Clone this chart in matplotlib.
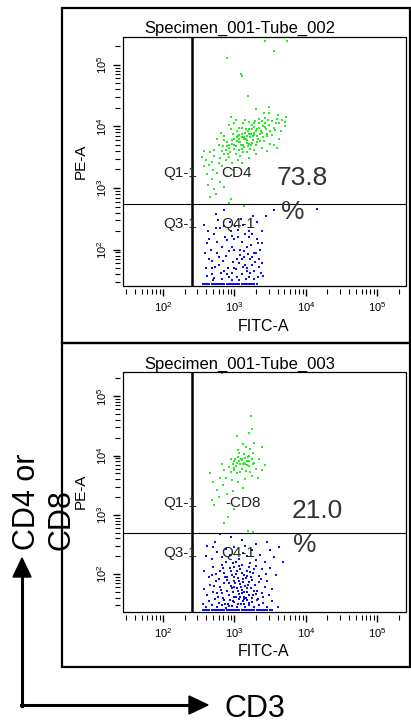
import matplotlib
matplotlib.use('Agg')
import matplotlib.pyplot as plt
from matplotlib.patches import Rectangle, Polygon
from matplotlib.lines import Line2D

plt.rcParams['font.family'] = ['Liberation Sans', 'DejaVu Sans']
plt.rcParams['mathtext.fontset'] = 'custom'
plt.rcParams['mathtext.rm'] = 'Liberation Sans'
plt.rcParams['mathtext.it'] = 'Liberation Sans:italic'

W, H = 411, 727

# events, as log10(FITC-A), log10(PE-A)
tube2_green = [
    (3.42, 5.38), (3.73, 5.38), (3.55, 5.22), (2.90, 5.11), (3.09, 4.85), (3.11, 4.82),
    (3.19, 4.49), (3.30, 4.28), (3.48, 4.31), (3.41, 4.21), (3.48, 4.21), (3.61, 4.18),
    (3.72, 4.16), (3.43, 4.13), (2.95, 4.15), (3.02, 4.10), (3.27, 4.05), (3.62, 4.05),
    (3.70, 4.07),
    (3.00, 3.80), (3.05, 3.85), (3.10, 3.82), (3.15, 3.90), (3.20, 3.88), (3.08, 3.75),
    (3.12, 3.70), (3.18, 3.78), (3.25, 3.95), (3.30, 3.92), (3.22, 3.83), (3.28, 3.86),
    (3.35, 3.98), (3.40, 4.00), (3.02, 3.68), (2.96, 3.72), (2.92, 3.65), (3.06, 3.62),
    (3.14, 3.66), (3.20, 3.72), (3.26, 3.78), (3.32, 3.84), (3.38, 3.90), (3.44, 3.95),
    (3.16, 3.95), (3.10, 3.98), (3.04, 3.92), (2.98, 3.88), (3.24, 4.02), (3.34, 4.05),
    (3.48, 4.02), (3.52, 4.08), (3.45, 3.88), (3.40, 3.82), (3.36, 3.76), (3.30, 3.70),
    (3.22, 3.64), (3.12, 3.58), (3.02, 3.55), (2.94, 3.58), (2.88, 3.62), (2.90, 3.75),
    (2.85, 3.55), (3.18, 3.85), (3.13, 3.79), (3.07, 3.86), (3.27, 3.90), (3.21, 3.96),
    (3.33, 3.80), (3.37, 3.93), (3.42, 4.06), (3.55, 3.98), (3.58, 4.05), (3.50, 3.92),
    (3.28, 3.99), (3.17, 3.73), (3.09, 3.69), (2.99, 3.63), (3.04, 3.77), (3.23, 3.69),
    (3.03, 3.83), (3.11, 3.87), (3.19, 3.93), (3.26, 3.84), (3.31, 3.96), (3.36, 3.87),
    (3.43, 3.99), (3.47, 4.10), (3.39, 4.09), (3.29, 4.08), (3.14, 3.83), (3.07, 3.80),
    (2.97, 3.78), (2.93, 3.70), (3.00, 3.70), (3.10, 3.64), (3.19, 3.68), (3.25, 3.73),
    (3.32, 3.75), (3.41, 3.77), (3.46, 3.84), (3.53, 3.86), (3.57, 3.94), (3.60, 4.12),
    (3.66, 4.10), (3.35, 4.12), (3.23, 3.88), (3.16, 3.80), (3.06, 3.74), (2.89, 3.68),
    (2.83, 3.60), (2.91, 3.55), (3.08, 3.52), (3.18, 3.58), (3.28, 3.62), (2.86, 3.78),
    (2.81, 3.90), (3.20, 4.07), (3.12, 4.05), (3.07, 3.97),
    (2.60, 3.45), (2.65, 3.38), (2.72, 3.52), (2.78, 3.40), (2.70, 3.30), (2.62, 3.22),
    (2.68, 3.15), (2.75, 3.25), (2.82, 3.35), (2.80, 3.48), (2.88, 3.45), (2.92, 3.50),
    (2.84, 3.68), (2.78, 3.70), (2.72, 3.62), (2.66, 3.58), (2.76, 3.80), (2.86, 3.85),
    (2.95, 3.95), (2.92, 4.02), (2.58, 3.60), (2.63, 3.05), (2.71, 2.98), (2.80, 3.10),
    (2.90, 3.20), (2.96, 3.40), (3.05, 3.45), (3.10, 3.40), (3.20, 3.48), (3.30, 3.55),
    (3.45, 3.60), (3.55, 3.70), (3.62, 3.80), (3.65, 3.92), (3.70, 4.00), (3.60, 3.65),
    (3.50, 3.72), (3.38, 3.65), (2.98, 3.30), (2.85, 3.02), (2.74, 2.90), (2.66, 2.85),
    (2.93, 2.75), (2.95, 2.82), (3.14, 2.71), (2.57, 3.35), (2.69, 3.42), (2.55, 3.50),
    (3.00, 4.05), (3.15, 4.10),
]
tube2_blue = [
    (2.58, 2.40), (2.62, 2.10), (2.65, 1.85), (2.60, 1.70), (2.68, 1.60), (2.72, 2.25),
    (2.75, 1.95), (2.78, 1.75), (2.70, 1.50), (2.80, 2.35), (2.82, 2.05), (2.85, 1.65),
    (2.88, 1.90), (2.90, 2.15), (2.92, 1.55), (2.95, 2.30), (2.98, 1.80), (3.00, 2.00),
    (3.02, 1.68), (3.05, 2.20), (3.08, 1.92), (3.10, 1.60), (3.12, 2.40), (3.15, 1.75),
    (3.18, 2.05), (3.20, 1.55), (3.22, 1.85), (3.25, 2.25), (3.28, 1.65), (3.30, 1.95),
    (3.32, 2.45), (3.35, 1.72), (3.38, 2.10), (3.40, 1.58), (2.63, 2.30), (2.67, 2.00),
    (2.73, 1.72), (2.77, 2.48), (2.83, 1.52), (2.87, 2.20), (2.93, 1.98), (2.97, 1.62),
    (3.01, 2.38), (3.04, 1.85), (3.07, 1.50), (3.11, 2.12), (3.14, 1.98), (3.17, 1.66),
    (3.21, 2.30), (3.24, 1.75), (3.27, 1.52), (3.31, 2.18), (3.34, 1.85), (3.37, 1.62),
    (3.39, 2.30), (2.61, 1.58), (2.69, 1.82), (2.76, 2.12), (2.84, 1.82), (2.91, 1.70),
    (2.99, 2.18), (3.06, 1.78), (3.13, 1.88), (3.19, 1.93), (3.23, 2.08), (3.29, 1.80),
    (3.36, 2.00), (2.59, 1.95), (2.81, 1.62), (2.94, 2.45), (3.09, 2.50), (3.26, 2.55),
    (2.74, 2.58), (3.44, 2.55), (3.55, 2.65), (4.15, 2.66), (2.85, 2.65), (3.03, 1.56),
    (3.16, 1.53), (3.33, 1.55), (2.71, 1.54), (2.96, 1.51), (3.18, 1.70), (3.12, 1.72),
    (3.22, 1.62),
    (2.64, 2.18), (2.79, 1.88), (2.86, 2.38), (2.97, 2.05), (3.05, 2.32), (3.10, 1.84),
    (3.20, 2.20), (3.27, 1.95), (3.33, 2.10), (3.38, 1.78), (2.68, 1.70), (2.90, 1.60),
    (3.00, 1.70), (3.15, 2.25), (3.25, 1.88), (2.74, 2.35), (2.96, 2.22), (3.08, 2.00),
]
# events piled up on the lower edge of the PE-A scale
tube2_floor_x = [2.56, 2.59, 2.62, 2.65, 2.68, 2.71, 2.74, 2.77, 2.80, 2.83, 2.86, 2.89,
                 2.92, 2.95, 2.98, 3.01, 3.04, 3.07, 3.10, 3.13, 3.16, 3.19, 3.22, 3.25,
                 3.28, 3.31]
tube2_floor_y = 1.45

tube3_green = [
    (2.83, 5.39), (3.23, 4.67), (3.25, 4.45), (3.20, 4.38), (3.03, 4.33), (3.16, 4.15),
    (3.22, 4.11), (3.38, 4.15), (3.05, 4.10), (3.12, 4.20), (3.28, 4.22),
    (2.95, 3.95), (3.00, 3.90), (3.05, 3.98), (3.10, 3.92), (3.15, 3.96), (3.20, 4.00),
    (3.08, 3.85), (3.02, 3.82), (3.12, 3.86), (3.18, 3.90), (3.24, 3.95), (3.26, 4.05),
    (3.14, 4.02), (3.06, 4.04), (2.98, 3.86), (2.92, 3.80), (3.00, 3.75), (3.10, 3.78),
    (3.20, 3.82), (3.28, 3.88), (3.04, 3.70), (2.95, 3.72), (3.16, 3.74), (3.22, 3.72),
    (3.09, 3.94), (3.13, 3.88), (3.17, 3.84),
    (3.11, 3.95), (3.19, 3.97), (3.03, 3.87), (3.07, 3.91), (3.15, 3.86), (3.21, 3.91),
    (2.99, 3.79), (3.08, 3.72), (3.26, 3.85), (3.01, 3.95),
    (2.66, 3.70), (2.70, 3.55), (2.75, 3.42), (2.68, 3.25), (2.80, 3.62), (2.86, 3.75),
    (2.84, 3.50), (2.90, 3.35), (2.72, 3.17), (2.78, 3.30), (2.96, 3.58), (3.05, 3.55),
    (3.15, 3.60), (3.25, 3.65), (3.33, 3.62), (3.43, 3.84), (3.38, 3.75), (3.30, 3.78),
    (2.91, 2.97), (2.85, 2.87), (3.19, 2.73), (3.26, 2.71), (3.00, 3.10), (2.98, 3.40),
    (3.35, 3.95), (2.88, 3.62), (2.82, 3.85), (3.12, 3.45),
]
tube3_blue = [
    (2.73, 2.54), (2.80, 2.68), (3.45, 2.54), (2.95, 2.62), (3.10, 2.58), (3.30, 2.50),
    (2.62, 2.48), (3.50, 2.40), (3.62, 2.45), (3.68, 2.21),
    (2.60, 2.30), (2.68, 2.25), (2.75, 2.38), (2.82, 2.28), (2.88, 2.42), (2.94, 2.32),
    (3.00, 2.45), (3.06, 2.26), (3.12, 2.36), (3.18, 2.30), (3.24, 2.40), (3.30, 2.24),
    (3.36, 2.32), (3.42, 2.20), (3.55, 2.28), (2.70, 2.45), (3.15, 2.47), (3.02, 2.20),
    (2.58, 2.05), (2.64, 1.95), (2.70, 2.12), (2.74, 2.00), (2.78, 1.92), (2.82, 2.15),
    (2.86, 2.02), (2.90, 1.95), (2.94, 2.10), (2.98, 2.18), (3.02, 2.00), (3.05, 1.93),
    (3.08, 2.08), (3.11, 2.16), (3.14, 1.98), (3.17, 2.05), (3.20, 2.12), (3.23, 1.95),
    (3.26, 2.02), (3.30, 2.14), (3.34, 1.97), (3.38, 2.08), (3.44, 2.00), (3.50, 2.10),
    (3.58, 1.98), (2.88, 2.20), (3.00, 2.12), (3.12, 1.92), (3.22, 2.18), (2.80, 2.05),
    (2.96, 1.98), (3.06, 2.14), (3.16, 1.94), (3.28, 2.08),
    (2.57, 1.75), (2.62, 1.65), (2.66, 1.82), (2.70, 1.70), (2.74, 1.88), (2.77, 1.62),
    (2.80, 1.78), (2.83, 1.68), (2.86, 1.85), (2.89, 1.72), (2.92, 1.64), (2.95, 1.80),
    (2.98, 1.70), (3.00, 1.88), (3.03, 1.76), (3.06, 1.66), (3.08, 1.83), (3.10, 1.73),
    (3.13, 1.62), (3.15, 1.80), (3.18, 1.70), (3.20, 1.86), (3.23, 1.76), (3.26, 1.64),
    (3.29, 1.82), (3.32, 1.72), (3.35, 1.86), (3.39, 1.68), (3.43, 1.78), (3.48, 1.65),
    (3.53, 1.75), (2.90, 1.90), (3.05, 1.72), (3.12, 1.86), (2.96, 1.76), (3.02, 1.62),
    (3.17, 1.76), (3.21, 1.65), (2.84, 1.60), (3.09, 1.78), (3.00, 1.79), (3.14, 1.69),
    (2.56, 1.50), (2.60, 1.45), (2.65, 1.55), (2.69, 1.48), (2.73, 1.58), (2.76, 1.44),
    (2.79, 1.52), (2.82, 1.47), (2.85, 1.56), (2.88, 1.43), (2.91, 1.50), (2.94, 1.57),
    (2.97, 1.46), (3.00, 1.53), (3.03, 1.44), (3.06, 1.58), (3.09, 1.49), (3.12, 1.54),
    (3.15, 1.45), (3.18, 1.57), (3.21, 1.48), (3.24, 1.53), (3.27, 1.44), (3.31, 1.56),
    (3.35, 1.47), (3.40, 1.52), (3.46, 1.45), (3.52, 1.55), (3.61, 1.45), (3.05, 1.50),
    (2.98, 1.55), (3.13, 1.58), (2.87, 1.49), (3.20, 1.52),
    (2.92, 1.85), (2.99, 1.95), (3.07, 1.88), (3.11, 1.68), (3.19, 1.82), (3.25, 1.90),
    (3.04, 2.06), (2.87, 1.95), (2.81, 1.73), (3.16, 1.60), (3.28, 1.72), (3.33, 1.58),
    (2.93, 1.46), (3.08, 1.62), (3.01, 1.85), (3.22, 2.04), (2.76, 1.68), (2.72, 1.80),
    (3.37, 1.92), (3.45, 1.88), (3.30, 1.66), (2.95, 2.05), (3.10, 2.02), (3.18, 1.97),
    (2.84, 2.10), (2.68, 1.98), (3.24, 1.60), (3.40, 1.62), (2.99, 1.62), (3.13, 1.49),
]
tube3_floor_x = [2.56, 2.59, 2.62, 2.65, 2.68, 2.71, 2.74, 2.77, 2.80, 2.83, 2.86, 2.89,
                 2.92, 2.95, 2.98, 3.01, 3.04, 3.07, 3.10, 3.13, 3.16, 3.19, 3.22, 3.25,
                 3.28, 3.31, 3.34, 3.37, 3.40, 3.43, 3.46, 3.49, 3.52]
tube3_floor_y = 1.40

titles = ['Specimen_001-Tube_002', 'Specimen_001-Tube_003']
markers = ['CD4', '-CD8']
percents = ['73.8', '21.0']
gate_x = 2.41          # log10 FITC-A of the vertical quadrant line
gate_y = [2.74, 2.70]  # log10 PE-A of the horizontal quadrant line


def px(x, y):
    return x / W, 1 - y / H


fig = plt.figure(figsize=(W / 100, H / 100), dpi=100)

# outer frames
for top, bot in [(8, 343), (343, 667)]:
    fig.add_artist(Rectangle(px(62, bot), 348 / W, (bot - top) / H, fill=False,
                             lw=1.6, edgecolor='black', transform=fig.transFigure))

panels = [
    dict(ax=(123, 37, 406, 286), ylim=(1.41, 5.45), green=tube2_green, blue=tube2_blue,
         floor_x=tube2_floor_x, floor_y=tube2_floor_y,
         title_y=28, pe=(81, 161), fitc=(263, 327), q1=173, q3=224,
         mk=(236, 173), pct=(277, 178), pc=(281, 212)),
    dict(ax=(123, 372, 406, 612), ylim=(1.36, 5.41), green=tube3_green, blue=tube3_blue,
         floor_x=tube3_floor_x, floor_y=tube3_floor_y,
         title_y=364, pe=(81, 491), fitc=(263, 652), q1=503, q3=553,
         mk=(243, 503), pct=(292, 511), pc=(293, 545)),
]

for i, p in enumerate(panels):
    x0, y0, x1, y1 = p['ax']
    ax = fig.add_axes([x0 / W, 1 - y1 / H, (x1 - x0) / W, (y1 - y0) / H])
    ax.set_xscale('log')
    ax.set_yscale('log')
    ax.set_xlim(10 ** 1.44, 10 ** 5.40)
    ax.set_ylim(10 ** p['ylim'][0], 10 ** p['ylim'][1])

    gx = [10 ** a for a, b in p['green']]
    gy = [10 ** b for a, b in p['green']]
    bx = [10 ** a for a, b in p['blue']] + [10 ** a for a in p['floor_x']]
    by = [10 ** b for a, b in p['blue']] + [10 ** p['floor_y']] * len(p['floor_x'])
    ax.scatter(bx, by, s=3, marker='s', color='#1010f0', linewidths=0)
    ax.scatter(gx, gy, s=3, marker='s', color='#22ee22', linewidths=0)

    ax.axvline(10 ** gate_x, color='black', lw=1.8)
    ax.axhline(10 ** gate_y[i], color='black', lw=0.8)

    # ticks sit slightly away from the frame
    for side in ['left', 'bottom']:
        ax.spines[side].set_position(('outward', 2))
        ax.spines[side].set_color('none')
    for side in ['right', 'top']:
        ax.spines[side].set_visible(False)
    ax.add_patch(Rectangle((0, 0), 1, 1, transform=ax.transAxes, fill=False,
                           lw=0.9, edgecolor='black', clip_on=False))
    ax.tick_params(which='major', length=5, width=1.0, labelsize=8, pad=3)
    ax.tick_params(which='minor', length=3.5, width=0.8)
    ax.set_xticks([1e2, 1e3, 1e4, 1e5])
    ax.set_yticks([1e2, 1e3, 1e4, 1e5])
    ax.set_xticklabels(['$10^{2}$', '$10^{3}$', '$10^{4}$', '$10^{5}$'])
    ax.set_yticklabels(['$10^{2}$', '$10^{3}$', '$10^{4}$', '$10^{5}$'],
                       rotation=90, va='center')

    fig.text(*px(240, p['title_y']), titles[i], fontsize=12, ha='center', va='center')
    fig.text(*px(*p['pe']), 'PE-A', fontsize=11, rotation=90, ha='center', va='center')
    fig.text(*px(*p['fitc']), 'FITC-A', fontsize=11.5, ha='center', va='center')
    fig.text(*px(180, p['q1']), 'Q1-1', fontsize=11, ha='center', va='center', color='#222222')
    fig.text(*px(180, p['q3']), 'Q3-1', fontsize=11, ha='center', va='center', color='#222222')
    fig.text(*px(238, p['q3']), 'Q4-1', fontsize=11, ha='center', va='center', color='#222222')
    fig.text(*px(*p['mk']), markers[i], fontsize=11, ha='center', va='center', color='#222222')
    fig.text(*px(*p['pct']), percents[i], fontsize=19, ha='left', va='center', color='#333333')
    fig.text(*px(*p['pc']), '%', fontsize=19, ha='left', va='center', color='#333333')

# axis key arrows
fig.add_artist(Line2D([px(22, 0)[0], px(22, 0)[0]], [px(0, 706)[1], px(0, 574)[1]],
                      color='black', lw=2.2, transform=fig.transFigure))
fig.add_artist(Line2D([px(21, 0)[0], px(192, 0)[0]], [px(0, 705)[1], px(0, 705)[1]],
                      color='black', lw=2.2, transform=fig.transFigure))
fig.add_artist(Polygon([px(22, 558), px(13, 577), px(31, 577)], closed=True,
                       color='black', transform=fig.transFigure))
fig.add_artist(Polygon([px(208, 705), px(189, 696), px(189, 714)], closed=True,
                       color='black', transform=fig.transFigure))
fig.text(*px(44, 550), 'CD4 or\nCD8', fontsize=22, rotation=90, ha='center', va='bottom',
         multialignment='left')
fig.text(*px(224, 709), 'CD3', fontsize=22, ha='left', va='center')

fig.savefig('out.png', dpi=100)
